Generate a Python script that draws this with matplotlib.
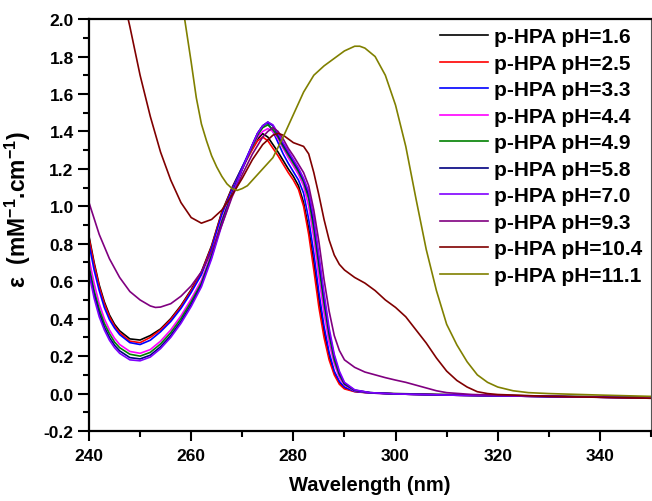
import matplotlib
matplotlib.use("Agg")
import matplotlib.pyplot as plt
from matplotlib.ticker import MultipleLocator

plt.rcParams["font.family"] = ["Liberation Sans", "DejaVu Sans"]
plt.rcParams["font.weight"] = "bold"
plt.rcParams["mathtext.fontset"] = "custom"
plt.rcParams["mathtext.rm"] = "Liberation Sans:bold"
plt.rcParams["mathtext.default"] = "rm"

# wavelength grid shared by the acidic/neutral spectra (nm)
wl_acid = [240, 241, 242, 243, 244, 245, 246, 248, 250, 252, 254, 256, 258, 260, 262,
           264, 266, 268, 270, 272, 273, 274, 275, 276, 277, 278, 279, 280, 281, 282,
           283, 284, 285, 286, 287, 288, 289, 290, 292, 295, 300, 310, 320, 335, 350]

eps_ph16 = [0.84, 0.70, 0.58, 0.49, 0.42, 0.37, 0.335, 0.292, 0.286, 0.31, 0.345, 0.40, 0.47, 0.555, 0.65,
            0.79, 0.97, 1.10, 1.21, 1.31, 1.36, 1.388, 1.37, 1.33, 1.29, 1.245, 1.20, 1.16, 1.11, 1.02,
            0.88, 0.70, 0.50, 0.33, 0.20, 0.11, 0.06, 0.03, 0.012, 0.004, 0.0, -0.005, -0.01, -0.015, -0.02]
eps_ph25 = [0.83, 0.69, 0.57, 0.48, 0.41, 0.36, 0.325, 0.28, 0.272, 0.30, 0.34, 0.395, 0.465, 0.55, 0.645,
            0.785, 0.965, 1.095, 1.205, 1.305, 1.35, 1.37, 1.35, 1.31, 1.27, 1.225, 1.18, 1.14, 1.09, 1.00,
            0.85, 0.66, 0.46, 0.30, 0.18, 0.10, 0.05, 0.025, 0.01, 0.003, -0.002, -0.008, -0.012, -0.018, -0.022]
eps_ph33 = [0.80, 0.66, 0.55, 0.46, 0.395, 0.35, 0.315, 0.272, 0.262, 0.285, 0.33, 0.385, 0.455, 0.54, 0.635,
            0.775, 0.955, 1.09, 1.21, 1.33, 1.39, 1.43, 1.445, 1.40, 1.34, 1.28, 1.23, 1.185, 1.14, 1.07,
            0.93, 0.75, 0.54, 0.36, 0.22, 0.12, 0.065, 0.035, 0.012, 0.003, -0.002, -0.008, -0.012, -0.018, -0.022]
eps_ph44 = [0.72, 0.59, 0.48, 0.40, 0.34, 0.295, 0.262, 0.225, 0.215, 0.235, 0.28, 0.34, 0.415, 0.505, 0.605,
            0.75, 0.93, 1.075, 1.20, 1.32, 1.37, 1.40, 1.415, 1.40, 1.36, 1.31, 1.26, 1.215, 1.17, 1.11,
            1.00, 0.83, 0.62, 0.43, 0.27, 0.16, 0.085, 0.045, 0.015, 0.004, -0.002, -0.008, -0.012, -0.018, -0.022]
eps_ph49 = [0.68, 0.55, 0.45, 0.375, 0.32, 0.275, 0.245, 0.21, 0.20, 0.22, 0.265, 0.325, 0.40, 0.49, 0.59,
            0.74, 0.92, 1.07, 1.20, 1.32, 1.38, 1.42, 1.435, 1.41, 1.37, 1.32, 1.275, 1.23, 1.185, 1.13,
            1.04, 0.88, 0.68, 0.48, 0.31, 0.18, 0.10, 0.05, 0.017, 0.005, -0.002, -0.008, -0.012, -0.018, -0.022]
eps_ph58 = [0.66, 0.53, 0.43, 0.355, 0.30, 0.258, 0.228, 0.192, 0.185, 0.205, 0.25, 0.31, 0.385, 0.475, 0.58,
            0.73, 0.91, 1.065, 1.20, 1.33, 1.39, 1.43, 1.45, 1.43, 1.38, 1.33, 1.285, 1.24, 1.195, 1.14,
            1.06, 0.91, 0.71, 0.51, 0.33, 0.20, 0.11, 0.055, 0.018, 0.005, -0.002, -0.008, -0.012, -0.018, -0.022]
eps_ph70 = [0.64, 0.51, 0.41, 0.34, 0.285, 0.245, 0.215, 0.18, 0.175, 0.195, 0.24, 0.30, 0.375, 0.465, 0.57,
            0.72, 0.90, 1.06, 1.20, 1.33, 1.39, 1.43, 1.45, 1.435, 1.39, 1.34, 1.295, 1.25, 1.205, 1.15,
            1.08, 0.94, 0.74, 0.54, 0.35, 0.21, 0.12, 0.06, 0.02, 0.005, -0.002, -0.008, -0.012, -0.018, -0.022]

wl_ph93 = [240, 242, 244, 246, 248, 250, 252, 253, 254, 256, 258, 260, 262, 264, 266, 268, 270, 272,
           274, 275, 276, 277, 278, 279, 280, 282, 283, 284, 285, 286, 287, 288, 289, 290, 292, 294,
           296, 298, 300, 302, 304, 306, 308, 310, 315, 325, 350]
eps_ph93 = [1.02, 0.85, 0.72, 0.62, 0.545, 0.50, 0.468, 0.46, 0.462, 0.48, 0.52, 0.575, 0.65, 0.76, 0.90,
            1.05, 1.17, 1.28, 1.37, 1.40, 1.42, 1.40, 1.36, 1.31, 1.27, 1.18, 1.11, 0.98, 0.81, 0.61,
            0.44, 0.31, 0.23, 0.18, 0.14, 0.115, 0.10, 0.085, 0.072, 0.06, 0.045, 0.03, 0.015, 0.005,
            -0.005, -0.012, -0.025]

wl_ph104 = [240, 242, 244, 246, 248, 250, 252, 254, 256, 258, 260, 262, 264, 266, 268, 270, 272, 274,
            276, 277, 278, 279, 280, 281, 282, 283, 284, 285, 286, 287, 288, 289, 290, 292, 294, 296,
            298, 300, 302, 304, 306, 308, 310, 312, 314, 316, 318, 320, 330, 350]
eps_ph104 = [3.4, 2.95, 2.5, 2.2, 1.96, 1.70, 1.48, 1.29, 1.14, 1.02, 0.94, 0.91, 0.93, 0.98, 1.06, 1.15,
             1.25, 1.33, 1.38, 1.39, 1.38, 1.36, 1.34, 1.33, 1.32, 1.28, 1.18, 1.06, 0.93, 0.82, 0.74,
             0.69, 0.66, 0.62, 0.59, 0.55, 0.50, 0.46, 0.41, 0.34, 0.27, 0.19, 0.12, 0.07, 0.035, 0.01,
             0.0, -0.005, -0.015, -0.025]

wl_ph111 = [254, 256, 258, 259, 260, 261, 262, 263, 264, 265, 266, 267, 268, 269, 270, 271, 272, 274,
            276, 278, 280, 282, 284, 286, 288, 290, 292, 293, 294, 296, 298, 299, 300, 302, 304, 306,
            308, 310, 312, 314, 316, 318, 320, 323, 326, 330, 340, 350]
eps_ph111 = [2.9, 2.5, 2.13, 1.95, 1.77, 1.58, 1.44, 1.35, 1.27, 1.21, 1.16, 1.12, 1.095, 1.085, 1.095,
             1.11, 1.14, 1.20, 1.26, 1.37, 1.49, 1.61, 1.70, 1.75, 1.79, 1.83, 1.855, 1.855, 1.845, 1.80,
             1.70, 1.62, 1.54, 1.32, 1.04, 0.77, 0.55, 0.37, 0.26, 0.17, 0.10, 0.06, 0.035, 0.015, 0.005,
             0.0, -0.008, -0.015]

labels = ["p-HPA pH=1.6", "p-HPA pH=2.5", "p-HPA pH=3.3", "p-HPA pH=4.4", "p-HPA pH=4.9",
          "p-HPA pH=5.8", "p-HPA pH=7.0", "p-HPA pH=9.3", "p-HPA pH=10.4", "p-HPA pH=11.1"]
colors = ["#000000", "#FF0000", "#0000FF", "#FF00FF", "#008000",
          "#000080", "#8000FF", "#800080", "#800000", "#808000"]

series = [(wl_acid, eps_ph16), (wl_acid, eps_ph25), (wl_acid, eps_ph33), (wl_acid, eps_ph44),
          (wl_acid, eps_ph49), (wl_acid, eps_ph58), (wl_acid, eps_ph70), (wl_ph93, eps_ph93),
          (wl_ph104, eps_ph104), (wl_ph111, eps_ph111)]

fig = plt.figure(figsize=(6.52, 5.02), dpi=100)
ax = fig.add_axes([0.1365, 0.1394, 0.862, 0.8206])

for (x, y), lab, c in zip(series, labels, colors):
    ax.plot(x, y, color=c, lw=1.2, label=lab)

ax.set_xlim(240, 350)
ax.set_ylim(-0.2, 2.0)
ax.xaxis.set_major_locator(MultipleLocator(20))
ax.xaxis.set_minor_locator(MultipleLocator(10))
ax.yaxis.set_major_locator(MultipleLocator(0.2))
ax.yaxis.set_minor_locator(MultipleLocator(0.1))
ax.yaxis.set_major_formatter(plt.FormatStrFormatter("%.1f"))
ax.tick_params(which="both", direction="out", width=1.5, labelsize=12.5)
ax.tick_params(which="major", length=8)
ax.tick_params(which="minor", length=4)
ax.tick_params(axis="x", which="major", length=7, pad=5)
ax.tick_params(axis="y", which="major", pad=3)
ax.tick_params(top=False, right=False)

for side in ["left", "bottom", "top"]:
    ax.spines[side].set_linewidth(1.6)
ax.spines["right"].set_linewidth(0.8)
ax.spines["right"].set_color("#555555")

ax.set_xlabel("Wavelength (nm)", fontsize=14.5, fontweight="bold", labelpad=9)
ax.set_ylabel("ε  (mM$^{-1}$.cm$^{-1}$)", fontsize=16.5, fontweight="bold")
ax.yaxis.set_label_coords(-0.1, 0.54)

ax.legend(loc="upper right", frameon=False, fontsize=15, handlelength=2.3,
          handletextpad=0.3, labelspacing=0.36, borderaxespad=0.25, borderpad=0.15)

fig.savefig("out.png", dpi=100)
plt.close(fig)
